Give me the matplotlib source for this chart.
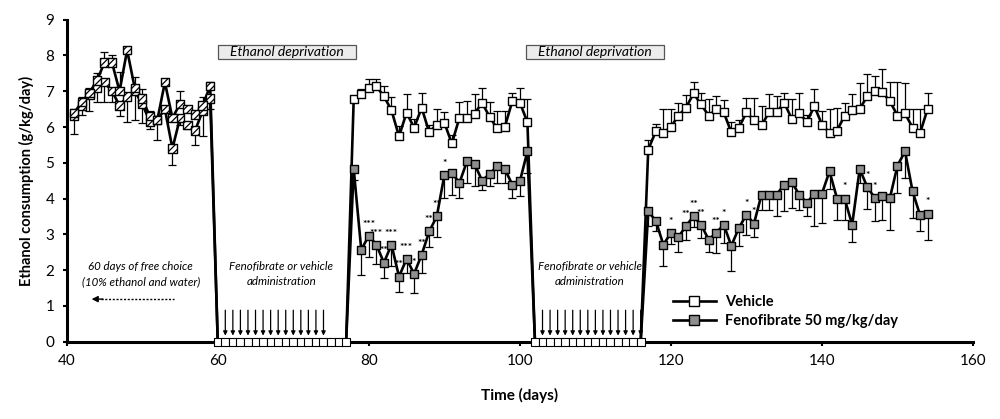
import numpy as np
import matplotlib
matplotlib.use("Agg")
import matplotlib.pyplot as plt
from matplotlib.lines import Line2D
from matplotlib.patches import Rectangle

plt.rcParams['font.family'] = ['Lato', 'DejaVu Sans']
plt.rcParams['hatch.linewidth'] = 0.9

# ---------------- data ----------------
pre_days = list(range(41, 60))
pre_vehicle = [6.4, 6.7, 6.95, 7.3, 7.8, 7.8, 7.0, 8.15, 7.1, 6.8, 6.3, 6.2, 7.25, 6.25, 6.65, 6.5, 6.35, 6.6, 7.15]
pre_vehicle_err = [0.1, 0.15, 0.15, 0.2, 0.3, 0.2, 0.55, 0.1, 0.3, 0.25, 0.15, 0.1, 0.1, 0.1, 0.35, 0.1, 0.1, 0.25, 0.1]
pre_feno = [6.3, 6.6, 6.9, 7.1, 7.25, 7.0, 6.6, 6.85, 7.0, 6.65, 6.15, 6.2, 6.5, 5.4, 6.25, 6.05, 5.9, 6.45, 6.8]
pre_feno_err = [0.5, 0.25, 0.45, 0.4, 0.55, 0.3, 0.3, 0.7, 0.8, 0.55, 0.2, 0.55, 0.1, 0.45, 0.2, 0.1, 0.4, 0.7, 0.3]

dep1_days = list(range(60, 78))
dep2_days = list(range(102, 117))

post1_days = list(range(78, 102))
post1_vehicle = [6.77, 6.91, 7.10, 7.14, 6.86, 6.47, 5.74, 6.40, 5.98, 6.54, 5.85, 6.07,
                 6.12, 5.54, 6.26, 6.26, 6.37, 6.68, 6.28, 5.96, 6.00, 6.72, 6.68, 6.14]
post1_vehicle_err = [0.1, 0.14, 0.23, 0.2, 0.3, 0.36, 0.3, 0.53, 0.25, 0.4, 0.2, 0.44,
                     0.31, 0.25, 0.44, 0.47, 0.56, 0.4, 0.41, 0.49, 0.44, 0.23, 0.4, 0.65]
post1_feno = [4.83, 2.57, 2.96, 2.71, 2.21, 2.71, 1.82, 2.31, 1.90, 2.43, 3.08, 3.50,
              4.65, 4.72, 4.44, 5.04, 4.97, 4.50, 4.69, 4.90, 4.83, 4.39, 4.48, 5.32]
post1_feno_err = [0.3, 0.7, 0.58, 0.55, 0.42, 0.6, 0.42, 0.4, 0.54, 0.5, 0.42, 0.56,
                  0.64, 0.63, 0.42, 0.6, 0.63, 0.27, 0.35, 0.47, 0.4, 0.37, 0.42, 0.6]

post2_days = list(range(117, 155))
post2_vehicle = [5.37, 5.88, 5.84, 6.0, 6.32, 6.54, 6.94, 6.63, 6.32, 6.49, 6.41, 5.85,
                 5.98, 6.41, 6.19, 6.05, 6.41, 6.41, 6.68, 6.23, 6.38, 6.15, 6.58, 6.07,
                 5.84, 5.90, 6.32, 6.47, 6.51, 6.86, 7.0, 6.97, 6.72, 6.32, 6.38, 5.98,
                 5.84, 6.51]
post2_vehicle_err = [0.28, 0.2, 0.67, 0.5, 0.36, 0.35, 0.32, 0.33, 0.47, 0.37, 0.34, 0.3,
                     0.23, 0.4, 0.63, 0.53, 0.5, 0.45, 0.28, 0.55, 0.56, 0.2, 0.47, 0.37,
                     0.67, 0.64, 0.34, 0.44, 0.71, 0.61, 0.44, 0.64, 0.53, 0.93, 0.84, 0.53,
                     0.67, 0.45]
post2_feno = [3.64, 3.38, 2.71, 3.04, 2.92, 3.24, 3.50, 3.27, 2.85, 3.04, 3.27, 2.68,
              3.18, 3.55, 3.30, 4.11, 4.11, 4.11, 4.39, 4.46, 4.11, 3.88, 4.14, 4.14,
              4.76, 4.0, 4.0, 3.27, 4.83, 4.32, 4.02, 4.06, 4.02, 4.92, 5.32, 4.20,
              3.53, 3.58]
post2_feno_err = [0.4, 0.3, 0.6, 0.3, 0.4, 0.4, 0.3, 0.37, 0.33, 0.56, 0.5, 0.7,
                  0.5, 0.56, 0.38, 0.42, 0.42, 0.6, 0.75, 0.72, 0.42, 0.37, 0.92, 0.82,
                  0.5, 0.6, 0.6, 0.47, 0.4, 0.6, 0.65, 0.65, 0.9, 0.77, 0.75, 0.75,
                  0.45, 0.75]

sig_days = [80, 81, 82, 83, 84, 85, 86, 87, 88, 89, 90,
            120, 122, 123, 124, 126, 127, 130, 131, 143, 146, 147, 154]
sig_labels = ['***', '***', '**', '***', '**', '***', '*', '**', '**', '**', '*',
              '*', '**', '**', '**', '**', '*', '*', '*', '*', '*', '*', '*']

injection_days1 = list(range(61, 75))
injection_days2 = list(range(103, 117))

x_ticks = [40, 60, 80, 100, 120, 140, 160]
y_ticks = list(range(0, 10))

# ---------------- assemble full series ----------------
all_days = pre_days + dep1_days + post1_days + dep2_days + post2_days
veh_all = pre_vehicle + [0] * len(dep1_days) + post1_vehicle + [0] * len(dep2_days) + post2_vehicle
feno_all = pre_feno + [0] * len(dep1_days) + post1_feno + [0] * len(dep2_days) + post2_feno

act_days = post1_days + post2_days
veh_act = post1_vehicle + post2_vehicle
veh_act_err = post1_vehicle_err + post2_vehicle_err
feno_act = post1_feno + post2_feno
feno_act_err = post1_feno_err + post2_feno_err

GRAY = '#8e8e8e'
MS = 36

fig = plt.figure(figsize=(10, 4.19), dpi=100)
ax = fig.add_axes([0.0667, 0.1845, 0.9063, 0.7685])

# lines
ax.plot(all_days, feno_all, color='black', lw=1.9, zorder=2, clip_on=False)
ax.plot(all_days, veh_all, color='black', lw=1.9, zorder=2, clip_on=False)

# error bars
ekw = dict(fmt='none', ecolor='black', elinewidth=0.9, capsize=3.2, capthick=0.9, zorder=1)
ax.errorbar(pre_days, pre_vehicle, yerr=[np.zeros(len(pre_days)), pre_vehicle_err], **ekw)
ax.errorbar(pre_days, pre_feno, yerr=[pre_feno_err, np.zeros(len(pre_days))], **ekw)
ax.errorbar(act_days, veh_act, yerr=[np.zeros(len(act_days)), veh_act_err], **ekw)
ax.errorbar(act_days, feno_act, yerr=[feno_act_err, np.zeros(len(act_days))], **ekw)

# markers
ax.scatter(pre_days, pre_feno, marker='s', s=MS, facecolors='white', edgecolors='black',
           hatch='/////', linewidths=1.0, zorder=4)
ax.scatter(pre_days, pre_vehicle, marker='s', s=MS, facecolors='white', edgecolors='black',
           hatch='/////', linewidths=1.0, zorder=4)
ax.scatter(act_days, feno_act, marker='s', s=MS, facecolors=GRAY, edgecolors='black',
           linewidths=1.0, zorder=4)
ax.scatter(act_days, veh_act, marker='s', s=MS, facecolors='white', edgecolors='black',
           linewidths=1.0, zorder=4)
dep_days = dep1_days + dep2_days
ax.scatter(dep_days, [0] * len(dep_days), marker='s', s=30, facecolors='white',
           edgecolors='black', linewidths=0.8, zorder=6, clip_on=False)

# significance stars
for d, lab in zip(sig_days, sig_labels):
    i = act_days.index(d)
    ax.text(d, feno_act[i] + 0.2, lab, ha='center', va='bottom', fontsize=7.5,
            fontweight='bold', zorder=5)

# injection arrows
for d in injection_days1 + injection_days2:
    ax.annotate('', xy=(d, 0.17), xytext=(d, 0.88),
                arrowprops=dict(arrowstyle='-|>', color='black', lw=0.9,
                                mutation_scale=6, shrinkA=0, shrinkB=0), zorder=3)

# annotations
ax.text(49.8, 1.88, '60 days of free choice\n(10% ethanol and water)', ha='center', va='center',
        fontsize=8.3, style='italic', linespacing=1.45)
ax.plot([44.5, 54.2], [1.19, 1.19], color='black', lw=1.0, ls=(0, (1.5, 1.2)))
ax.annotate('', xy=(43.3, 1.19), xytext=(44.8, 1.19),
            arrowprops=dict(arrowstyle='-|>', color='black', lw=1.0, mutation_scale=9,
                            shrinkA=0, shrinkB=0))
for xc in (68.4, 109.3):
    ax.text(xc, 1.88, 'Fenofibrate or vehicle\nadministration', ha='center', va='center',
            fontsize=8.3, style='italic', linespacing=1.45)
for x0, x1 in ((60.0, 78.3), (100.8, 119.1)):
    ax.add_patch(Rectangle((x0, 7.89), x1 - x0, 0.40, facecolor='#ececec',
                           edgecolor='#555555', linewidth=0.9, zorder=3))
    ax.text((x0 + x1) / 2, 8.09, 'Ethanol deprivation', ha='center', va='center',
            fontsize=10, style='italic', zorder=4)

# legend
handles = [
    Line2D([0], [0], color='black', lw=1.9, marker='s', markersize=7.5,
           markerfacecolor='white', markeredgecolor='black', markeredgewidth=1.0),
    Line2D([0], [0], color='black', lw=1.9, marker='s', markersize=7.5,
           markerfacecolor=GRAY, markeredgecolor='black', markeredgewidth=1.0),
]
leg = ax.legend(handles, ['Vehicle', 'Fenofibrate 50 mg/kg/day'], loc='upper left',
                bbox_to_anchor=(0.662, 0.163), frameon=False, handlelength=3.0,
                borderaxespad=0, labelspacing=0.35, handletextpad=0.6,
                prop=dict(size=10.5, weight='bold'))

# axes style
ax.set_xlim(40, 160)
ax.set_ylim(0, 9)
ax.set_xticks(x_ticks)
ax.set_yticks(y_ticks)
ax.tick_params(axis='both', labelsize=11, length=3, width=1.5, direction='out', pad=6)
for s in ('top', 'right'):
    ax.spines[s].set_visible(False)
for s in ('left', 'bottom'):
    ax.spines[s].set_linewidth(2.2)
ax.set_xlabel('Time (days)', fontsize=11, fontweight='bold', labelpad=14)
ax.set_ylabel('Ethanol consumption (g/kg/day)', fontsize=10.5, fontweight='bold', labelpad=8)

fig.savefig('out.png', dpi=100)
